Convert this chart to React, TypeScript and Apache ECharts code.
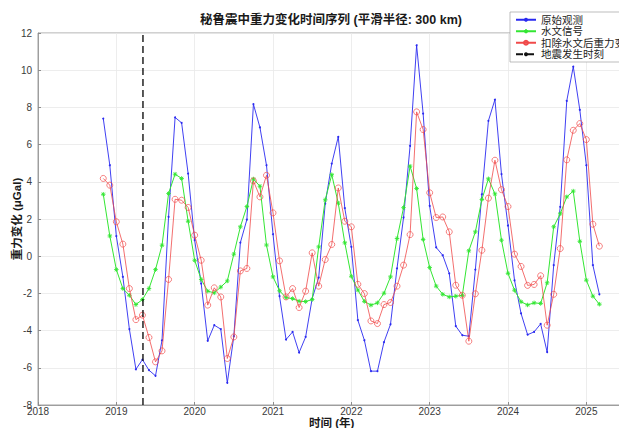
import React, { useEffect, useRef } from "react";
import * as echarts from "echarts";

// Monthly epochs (year-month)
const months = [
  "2018-11", "2018-12",
  "2019-01", "2019-02", "2019-03", "2019-04", "2019-05", "2019-06", "2019-07", "2019-08", "2019-09", "2019-10", "2019-11", "2019-12",
  "2020-01", "2020-02", "2020-03", "2020-04", "2020-05", "2020-06", "2020-07", "2020-08", "2020-09", "2020-10", "2020-11", "2020-12",
  "2021-01", "2021-02", "2021-03", "2021-04", "2021-05", "2021-06", "2021-07", "2021-08", "2021-09", "2021-10", "2021-11", "2021-12",
  "2022-01", "2022-02", "2022-03", "2022-04", "2022-05", "2022-06", "2022-07", "2022-08", "2022-09", "2022-10", "2022-11", "2022-12",
  "2023-01", "2023-02", "2023-03", "2023-04", "2023-05", "2023-06", "2023-07", "2023-08", "2023-09", "2023-10", "2023-11", "2023-12",
  "2024-01", "2024-02", "2024-03", "2024-04", "2024-05", "2024-06", "2024-07", "2024-08", "2024-09", "2024-10", "2024-11", "2024-12",
  "2025-01", "2025-02", "2025-03",
];

// 原始观测 (μGal)
const rawObs = [
  7.40, 4.89,
  1.08, -1.11, -3.92, -6.08, -5.56, -6.13, -6.43, -4.52, 2.11, 7.46, 7.17, 4.44,
  0.86, -1.47, -4.55, -3.71, -3.92, -6.81, -4.30, 0.73, 1.97, 8.17, 6.92, 4.89,
  1.18, -2.15, -4.48, -4.07, -5.18, -4.34, -2.28, -1.15, 2.83, 4.98, 6.42, 2.58,
  0.50, -3.44, -4.52, -6.18, -6.18, -4.62, -3.66, -0.65, 2.08, 5.93, 11.34, 7.67,
  2.70, 0.47, 0.05, -0.93, -3.76, -4.25, -4.30, -0.72, 3.33, 7.28, 8.42, 4.41,
  1.65, -1.30, -3.08, -4.22, -4.07, -3.64, -5.16, -0.48, 2.65, 8.35, 10.19, 7.87,
  4.89, -0.48, -2.05,
];

// 水文信号 (μGal)
const hydro = [
  3.33, 1.09,
  -0.72, -1.74, -2.10, -2.60, -2.33, -1.74, -0.72, 0.59, 3.37, 4.41, 4.18, 1.88,
  -0.22, -1.25, -1.88, -1.97, -1.66, -1.33, 0.11, 1.58, 2.67, 4.15, 3.76, 0.60,
  -1.11, -1.86, -2.23, -2.28, -2.42, -2.44, -2.33, 0.50, 3.03, 4.38, 2.85, 0.72,
  -1.08, -1.82, -2.43, -2.63, -2.51, -1.99, -1.11, 0.95, 2.61, 4.84, 3.64, 0.90,
  -0.61, -1.61, -2.05, -2.19, -2.15, -2.11, 0.29, 1.31, 3.05, 4.16, 3.35, 0.86,
  -0.92, -1.83, -2.45, -2.62, -2.51, -2.54, -1.43, 1.58, 2.28, 3.19, 3.50, 0.80,
  -1.29, -2.15, -2.58,
];

// 扣除水文后重力变化 (μGal)
const corrected = [
  4.18, 3.82,
  1.85, 0.65, -1.74, -3.41, -3.17, -4.37, -5.68, -5.09, -1.25, 3.06, 3.01, 2.62,
  1.13, -0.22, -2.63, -1.70, -2.19, -5.50, -4.34, -0.79, -0.66, 4.05, 3.19, 4.35,
  2.33, -0.25, -2.19, -1.74, -2.76, -1.88, 0.18, -1.61, -0.18, 0.63, 3.67, 1.88,
  1.58, -1.51, -2.01, -3.48, -3.62, -2.60, -2.49, -1.61, -0.48, 1.16, 7.76, 6.81,
  3.41, 2.08, 2.11, 1.31, -1.56, -2.10, -4.57, -2.02, 0.32, 3.12, 5.16, 3.58,
  2.67, 0.11, -0.55, -1.57, -1.52, -1.05, -3.71, -2.05, 0.41, 5.18, 6.77, 7.13,
  6.27, 1.72, 0.54,
];

const quakeTime = 2019.34; // 地震发生时刻 (decimal year)
const yRange = [-8, 12];
const xRange = [2018, 2025.5];

const seriesNames = ["原始观测", "水文信号", "扣除水文后重力变化", "地震发生时刻"];
const titleText = "秘鲁震中重力变化时间序列 (平滑半径: 300 km)";
const xName = "时间 (年)";
const yName = "重力变化 (μGal)";

const FONT = '"Liberation Sans", "Noto Sans CJK SC", Arial, sans-serif';

function toYear(m: string): number {
  const [y, mo] = m.split("-").map(Number);
  return y + (mo - 1) / 12;
}

function pairs(vals: number[]): [number, number][] {
  return vals.map((v, i) => [toYear(months[i]), v]);
}

const asterisk = "path://M5,0L5,10M0,5L10,5M1.5,1.5L8.5,8.5M1.5,8.5L8.5,1.5";

export default function App() {
  const ref = useRef<HTMLDivElement>(null);
  useEffect(() => {
    if (!ref.current) return;
    const chart = echarts.init(ref.current, undefined, { renderer: "svg" });
    const axisColor = "#8c8c8c";
    const labelColor = "#3a3a3a";
    const gridColor = "#e9e9e9";
    const blue = "#2a2af0";
    const green = "#33e633";
    const red = "#f04a4a";
    chart.setOption({
      animation: false,
      backgroundColor: "#ffffff",
      textStyle: { fontFamily: FONT },
      graphic: [
        {
          type: "text",
          x: 331,
          y: 20,
          style: {
            text: titleText,
            fontSize: 12.5,
            fontWeight: "bold",
            fontFamily: FONT,
            fill: "#1a1a1a",
            textAlign: "center",
            textVerticalAlign: "middle",
          },
        },
      ],
      grid: {
        left: 38,
        top: 33,
        width: 587.5,
        height: 372,
        show: true,
        borderColor: axisColor,
        borderWidth: 0.8,
        backgroundColor: "transparent",
        containLabel: false,
        outerBoundsMode: "none",
      },
      legend: {
        orient: "vertical",
        left: 510,
        top: 12,
        itemWidth: 20,
        itemHeight: 5,
        itemGap: 0,
        padding: [2, 6, 2, 5],
        backgroundColor: "#ffffff",
        borderColor: "#a0a0a0",
        borderWidth: 0.7,
        borderRadius: 0,
        textStyle: { fontSize: 10.5, lineHeight: 11.5, color: "#222", fontFamily: FONT },
        data: seriesNames,
      },
      xAxis: {
        type: "value",
        min: xRange[0],
        max: xRange[1],
        interval: 1,
        name: xName,
        nameLocation: "middle",
        nameGap: 12,
        nameMoveOverlap: false,
        nameTextStyle: { fontSize: 11.5, fontWeight: "bold", color: "#1a1a1a", fontFamily: FONT },
        axisLine: { show: true, onZero: false, lineStyle: { color: axisColor, width: 0.8 } },
        axisTick: { show: true, inside: true, length: 3, lineStyle: { color: axisColor } },
        splitLine: { show: true, lineStyle: { color: gridColor, width: 0.8 } },
        axisLabel: {
          fontSize: 10,
          color: labelColor,
          margin: 1,
          fontFamily: FONT,
          formatter: (v: number) => (Number.isInteger(v) ? String(v) : ""),
        },
      },
      yAxis: {
        type: "value",
        min: yRange[0],
        max: yRange[1],
        interval: 2,
        name: yName,
        nameLocation: "middle",
        nameGap: 15,
        nameMoveOverlap: false,
        nameRotate: 90,
        nameTextStyle: { fontSize: 11.5, fontWeight: "bold", color: "#1a1a1a", fontFamily: FONT },
        axisLine: { show: true, onZero: false, lineStyle: { color: axisColor, width: 0.8 } },
        axisTick: { show: true, inside: true, length: 3, lineStyle: { color: axisColor } },
        splitLine: { show: true, lineStyle: { color: gridColor, width: 0.8 } },
        axisLabel: { fontSize: 10, color: labelColor, margin: 6, fontFamily: FONT },
      },
      series: [
        {
          name: seriesNames[0],
          type: "line",
          data: pairs(rawObs),
          symbol: "circle",
          symbolSize: 2,
          lineStyle: { color: blue, width: 0.9 },
          itemStyle: { color: blue },
          z: 2,
        },
        {
          name: seriesNames[1],
          type: "line",
          data: pairs(hydro),
          symbol: asterisk,
          symbolSize: 4.5,
          lineStyle: { color: green, width: 1 },
          itemStyle: { color: green, borderColor: green, borderWidth: 0.9 },
          z: 3,
        },
        {
          name: seriesNames[2],
          type: "line",
          data: pairs(corrected),
          symbol: "circle",
          symbolSize: 6,
          lineStyle: { color: red, width: 0.8 },
          itemStyle: { color: "rgba(255,255,255,0)", borderColor: red, borderWidth: 0.7 },
          z: 4,
        },
        {
          name: seriesNames[3],
          type: "line",
          data: [
            [quakeTime, yRange[0]],
            [quakeTime, yRange[1]],
          ],
          symbol: "none",
          showSymbol: false,
          lineStyle: { color: "#111111", width: 1.4, type: [7, 4] },
          itemStyle: { color: "#111111" },
          z: 5,
        },
      ],
    });
    return () => chart.dispose();
  }, []);
  return (
    <div
      ref={ref}
      style={{ position: "fixed", left: 0, top: 0, width: 619, height: 428 }}
    />
  );
}
